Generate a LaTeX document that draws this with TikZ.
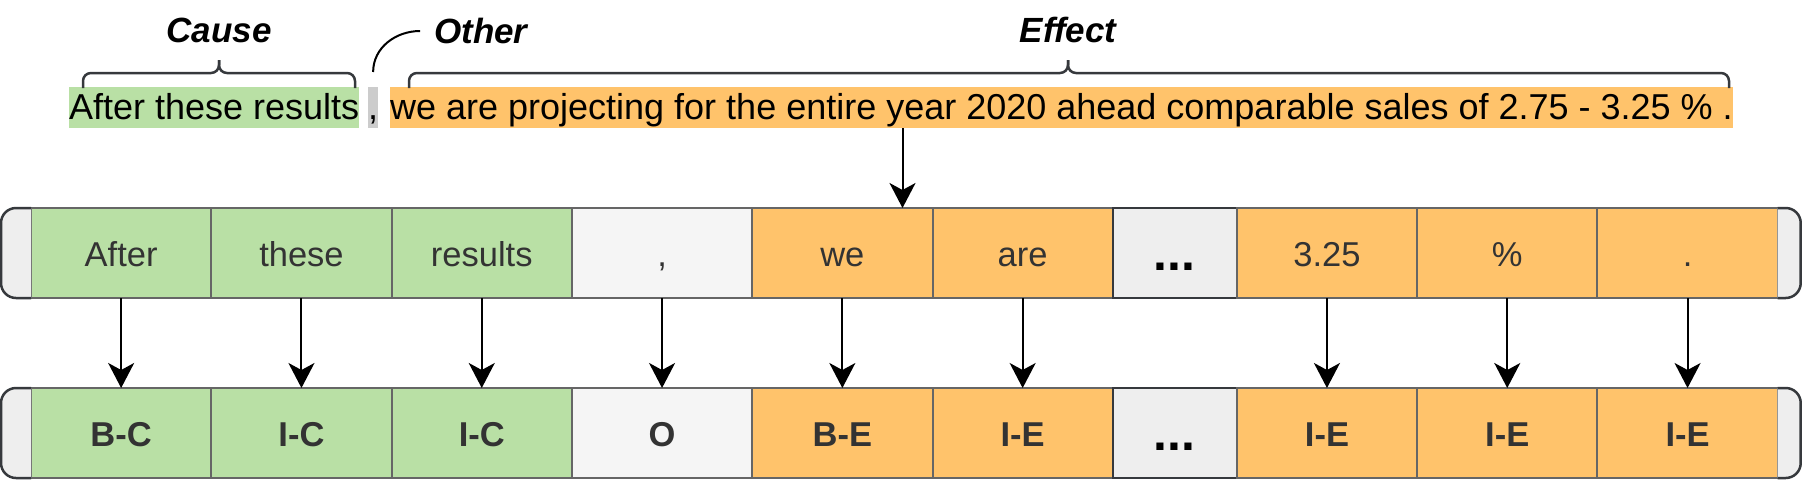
\documentclass[tikz,border=0pt]{standalone}
\usepackage{fontspec}
\setmainfont{Liberation Sans}
\usetikzlibrary{arrows.meta,positioning,calc}
\definecolor{cgreen}{HTML}{B9E0A5}
\definecolor{corange}{HTML}{FFC36B}
\definecolor{cother}{HTML}{F5F5F5}
\definecolor{cdots}{HTML}{EEEEEE}
\definecolor{chl}{HTML}{CCCCCC}
\definecolor{cline}{HTML}{666666}
\definecolor{cdark}{HTML}{36393D}
\definecolor{ctext}{HTML}{333333}
\tikzstyle{hl}=[inner sep=0pt, outer sep=0pt, text height=32pt, text depth=9pt, font=\fontsize{36}{40}\selectfont]
\tikzstyle{head}=[inner sep=0pt, font=\fontsize{35}{40}\selectfont\bfseries\itshape]
\tikzstyle{cell}=[draw=cline, line width=2pt, minimum width=180.3pt, minimum height=90pt, inner sep=0pt, outer sep=0pt, text height=32pt, text depth=6pt, text=ctext, font=\fontsize{34.5}{40}\selectfont]
\tikzstyle{tag}=[cell, font=\fontsize{34.5}{40}\selectfont\bfseries]
\tikzstyle{dotcell}=[cell, draw=cdark, fill=cdots, minimum width=124pt, text height=38pt, text depth=4pt, text=black, font=\fontsize{50}{50}\selectfont\bfseries]
\tikzstyle{endcap}=[-, draw=cdark, fill=cdots, line width=2.5pt, rounded corners=15pt]
\tikzstyle{brace}=[-, draw=cdark, line width=2.5pt, rounded corners=8pt]

\begin{document}
\begin{tikzpicture}[x=1pt, y=1pt, ->, >={Stealth[length=25pt,width=26pt,inset=7pt]}, line width=2pt]
\useasboundingbox (0,0) rectangle (1803,-480);
%
  \node[hl, fill=cgreen, anchor=base west] (cause) at (69,-119) {After these results};
  \node[hl, fill=chl] (comma) [right = 9pt of cause] {,};
  \node[hl, fill=corange] (effect) [right = 12pt of comma] {we are projecting for the entire year 2020 ahead comparable sales of 2.75 - 3.25 \% .};
%
  \draw[brace] (83,-88) -- (83,-73) -- (219,-73) -- (219,-60);
  \draw[brace] (219,-60) -- (219,-73) -- (355,-73) -- (355,-88);
  \coordinate (causetip) at (219,-60);
  \node[head] (causelbl) [above = 16pt of causetip] {Cause};
%
  \draw[brace] (409,-88) -- (409,-73) -- (1068,-73) -- (1068,-60);
  \draw[brace] (1068,-60) -- (1068,-73) -- (1729,-73) -- (1729,-88);
  \coordinate (effecttip) at (1068,-60);
  \node[head] (effectlbl) [above = 16pt of effecttip] {Effect};
%
  \coordinate (otherfoot) at ([yshift=15pt]comma.north);
  \coordinate (othertip) at ($(otherfoot)+(47,41)$);
  \node[head] (otherlbl) [right = 13pt of othertip] {Other};
  \draw[-] (otherfoot) to[out=90, in=180] (othertip);
%
  \node[cell, fill=cgreen, anchor=north west] (w1) at (31,-208) {After};
  \node[cell, fill=cgreen] (w2) [right = 0pt of w1] {these};
  \node[cell, fill=cgreen] (w3) [right = 0pt of w2] {results};
  \node[cell, fill=cother] (w4) [right = 0pt of w3] {,};
  \node[cell, fill=corange] (w5) [right = 0pt of w4] {we};
  \node[cell, fill=corange] (w6) [right = 0pt of w5] {are};
  \node[dotcell] (w7) [right = 0pt of w6] {...};
  \node[cell, fill=corange] (w8) [right = 0pt of w7] {3.25};
  \node[cell, fill=corange] (w9) [right = 0pt of w8] {\%};
  \node[cell, fill=corange] (w10) [right = 0pt of w9] {.};
  \filldraw[endcap] (w1.north west) -- ++(-30,0) -- ++(0,-90) -- (w1.south west);
  \filldraw[endcap] (w10.north east) -- ++(23,0) -- ++(0,-90) -- (w10.south east);
%
  \node[tag, fill=cgreen] (t1) [below = 90pt of w1] {B-C};
  \node[tag, fill=cgreen] (t2) [right = 0pt of t1] {I-C};
  \node[tag, fill=cgreen] (t3) [right = 0pt of t2] {I-C};
  \node[tag, fill=cother] (t4) [right = 0pt of t3] {O};
  \node[tag, fill=corange] (t5) [right = 0pt of t4] {B-E};
  \node[tag, fill=corange] (t6) [right = 0pt of t5] {I-E};
  \node[dotcell] (t7) [right = 0pt of t6] {...};
  \node[tag, fill=corange] (t8) [right = 0pt of t7] {I-E};
  \node[tag, fill=corange] (t9) [right = 0pt of t8] {I-E};
  \node[tag, fill=corange] (t10) [right = 0pt of t9] {I-E};
  \filldraw[endcap] (t1.north west) -- ++(-30,0) -- ++(0,-90) -- (t1.south west);
  \filldraw[endcap] (t10.north east) -- ++(23,0) -- ++(0,-90) -- (t10.south east);
%
  \coordinate (pick) at ($(w5.north east)+(-30,0)$);
  \draw (effect.south -| pick) -- (pick);
%
  \path[]
  (w1) edge node {} (t1)
  (w2) edge node {} (t2)
  (w3) edge node {} (t3)
  (w4) edge node {} (t4)
  (w5) edge node {} (t5)
  (w6) edge node {} (t6)
  (w8) edge node {} (t8)
  (w9) edge node {} (t9)
  (w10) edge node {} (t10);
\end{tikzpicture}
\end{document}
